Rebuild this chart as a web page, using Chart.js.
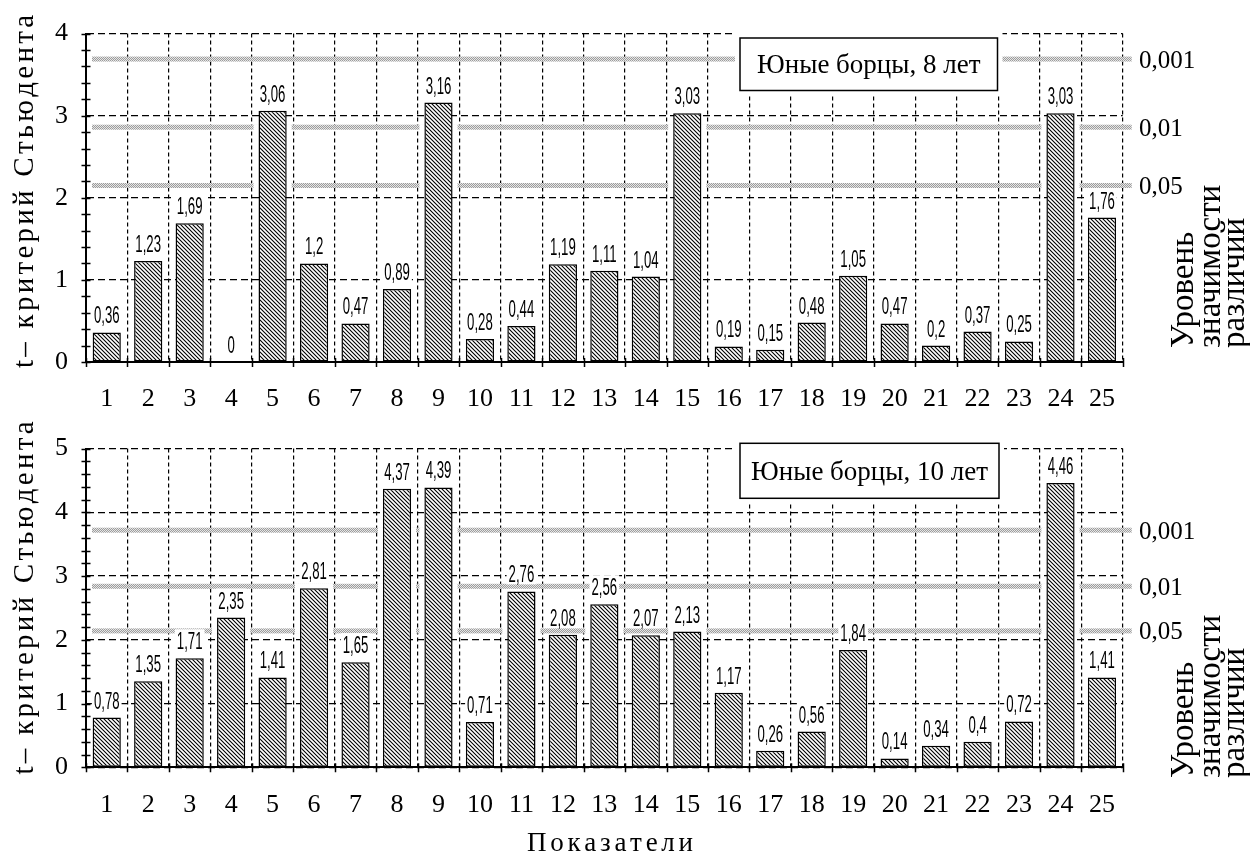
<!DOCTYPE html>
<html><head><meta charset="utf-8">
<script src="https://cdn.jsdelivr.net/npm/chart.js@4.4.1/dist/chart.umd.min.js"></script>
<style>
html,body{margin:0;padding:0;background:#fff;width:1250px;height:852px;overflow:hidden;}
canvas{position:absolute;left:0;}
#c1{top:0px}
#c2{top:415px}
</style></head><body>
<canvas id="c1" width="1250" height="415"></canvas>
<canvas id="c2" width="1250" height="437"></canvas>
<script>
// ---- data ----
const categories = ['1','2','3','4','5','6','7','8','9','10','11','12','13','14','15','16','17','18','19','20','21','22','23','24','25'];
const valuesAge8  = [0.36,1.23,1.69,0,3.06,1.2,0.47,0.89,3.16,0.28,0.44,1.19,1.11,1.04,3.03,0.19,0.15,0.48,1.05,0.47,0.2,0.37,0.25,3.03,1.76];
const valuesAge10 = [0.78,1.35,1.71,2.35,1.41,2.81,1.65,4.37,4.39,0.71,2.76,2.08,2.56,2.07,2.13,1.17,0.26,0.56,1.84,0.14,0.34,0.4,0.72,4.46,1.41];
const significanceLabels = ['0,001','0,01','0,05'];
const tCriticalAge8  = [3.69,2.86,2.15];
const tCriticalAge10 = [3.72,2.84,2.14];
const yMaxAge8 = 4;
const yMaxAge10 = 5;
const legendAge8 = 'Юные борцы, 8 лет';
const legendAge10 = 'Юные борцы, 10 лет';
const yAxisTitle = 't– критерий Стьюдента';
const xAxisTitle = 'Показатели';
const rightTitleLines = ['Уровень','значимости','различий'];

// ---- patterns ----
function hatchPattern(){
  const s = 4, c = document.createElement('canvas'); c.width = s; c.height = s;
  const g = c.getContext('2d');
  g.fillStyle = '#fff'; g.fillRect(0,0,s,s);
  g.strokeStyle = '#000'; g.lineWidth = 1.1;
  g.beginPath();
  g.moveTo(0,0); g.lineTo(s,s);
  g.moveTo(-1,s-1); g.lineTo(1,s+1);
  g.moveTo(s-1,-1); g.lineTo(s+1,1);
  g.stroke();
  return g.createPattern(c,'repeat');
}
function bandPatternMake(){
  const c = document.createElement('canvas'); c.width = 2; c.height = 2;
  const g = c.getContext('2d');
  g.fillStyle = '#e6e6e6'; g.fillRect(0,0,2,2);
  g.fillStyle = '#9c9c9c'; g.fillRect(0,0,1,1); g.fillRect(1,1,1,1);
  return g.createPattern(c,'repeat');
}
const HATCH = hatchPattern();
const BAND = bandPatternMake();
const SERIF = '"Liberation Serif", "Times New Roman", serif';

function fmt(v){ return String(v).replace('.', ','); }

function spacedText(ctx, text, startX, y, target){
  const chars = [...text];
  let w0 = 0; chars.forEach(ch => w0 += ctx.measureText(ch).width);
  const sp = chars.length > 1 ? (target - w0) / (chars.length - 1) : 0;
  let x = startX;
  chars.forEach(ch => { ctx.fillText(ch, x, y); x += ctx.measureText(ch).width + sp; });
}

function makeDecor(cfg){
  return {
    id: 'decor' + cfg.key,
    beforeDatasetsDraw(chart){
      const ctx = chart.ctx, ca = chart.chartArea, ys = chart.scales.y;
      const meta = chart.getDatasetMeta(0);
      ctx.save();
      cfg.crit.forEach(v => {
        const py = ys.getPixelForValue(v);
        ctx.fillStyle = BAND;
        ctx.fillRect(ca.left + 6, py - 2.5, ca.right + 9 - (ca.left + 6), 5);
        ctx.fillStyle = '#fff';
        meta.data.forEach(el => {
          if (el.y < py + 3) ctx.fillRect(el.x - el.width/2 - 5, py - 3, el.width + 10, 6);
        });
      });
      ctx.restore();
    },
    afterDatasetsDraw(chart){
      const ctx = chart.ctx;
      const meta = chart.getDatasetMeta(0);
      const vals = chart.data.datasets[0].data;
      ctx.save();
      ctx.font = '24px "Liberation Sans", Arial, sans-serif';
      const sx = 0.55;
      meta.data.forEach((el, i) => {
        const txt = fmt(vals[i]);
        const by = el.y - 9;
        const w = ctx.measureText(txt).width * sx;
        ctx.fillStyle = '#fff';
        ctx.fillRect(el.x - w/2 - 2, by - 20, w + 4, 22);
        ctx.save();
        ctx.translate(el.x, by); ctx.scale(sx, 1);
        ctx.fillStyle = '#000'; ctx.textAlign = 'center'; ctx.textBaseline = 'alphabetic';
        ctx.fillText(txt, 0, 0);
        ctx.restore();
      });
      // legend box
      const b = cfg.box;
      ctx.fillStyle = '#fff';
      ctx.fillRect(b.x1 - 5, b.y1 - 5, b.x2 - b.x1 + 10, b.y2 - b.y1 + 10);
      ctx.strokeStyle = '#000'; ctx.lineWidth = 1.5;
      ctx.strokeRect(b.x1, b.y1, b.x2 - b.x1, b.y2 - b.y1);
      ctx.fillStyle = '#000';
      ctx.font = '27px ' + SERIF;
      ctx.textAlign = 'center'; ctx.textBaseline = 'alphabetic';
      ctx.fillText(cfg.legend, (b.x1 + b.x2)/2, b.base);
      ctx.restore();
    },
    afterDraw(chart){
      const ctx = chart.ctx, ca = chart.chartArea, ys = chart.scales.y, xs = chart.scales.x;
      ctx.save();
      ctx.strokeStyle = '#000'; ctx.lineWidth = 1.5;
      ctx.beginPath();
      for (let i = 0; i <= cfg.ymax * 5; i++) {
        const py = Math.round(ys.getPixelForValue(i / 5)) + 0.5;
        ctx.moveTo(ca.left - 4.5, py); ctx.lineTo(ca.left + 4.5, py);
      }
      for (let i = 0; i <= categories.length; i++) {
        const px = Math.round(xs.getPixelForValue(i - 0.5)) + 0.5;
        ctx.moveTo(px, ca.bottom - 4); ctx.lineTo(px, ca.bottom + 5);
      }
      ctx.stroke();
      // right significance labels
      ctx.fillStyle = '#000';
      ctx.font = '25px ' + SERIF;
      ctx.textAlign = 'left'; ctx.textBaseline = 'middle';
      cfg.crit.forEach((v, i) => {
        ctx.fillText(significanceLabels[i], 1139, ys.getPixelForValue(v) + 2);
      });
      // right rotated title
      ctx.font = '33px ' + SERIF;
      ctx.textBaseline = 'alphabetic'; ctx.textAlign = 'left';
      const bx = [1193, 1220, 1244];
      rightTitleLines.forEach((t, i) => {
        ctx.save(); ctx.translate(bx[i], cfg.rtStart); ctx.rotate(-Math.PI/2);
        ctx.fillText(t, 0, 0); ctx.restore();
      });
      // y axis title
      ctx.font = '29px ' + SERIF;
      ctx.save(); ctx.translate(33, cfg.ytCenter); ctx.rotate(-Math.PI/2);
      spacedText(ctx, yAxisTitle, -176.5, 0, 353);
      ctx.restore();
      if (cfg.xTitle) {
        ctx.font = '27px ' + SERIF;
        spacedText(ctx, xAxisTitle, 610 - 83, cfg.xTitleBase, 166);
      }
      ctx.restore();
    }
  };
}

function makeChart(id, values, ymax, crit, padTop, xH, decorCfg){
  return new Chart(document.getElementById(id), {
    type: 'bar',
    data: { labels: categories, datasets: [{
      data: values, backgroundColor: HATCH, borderColor: '#000', borderWidth: 1.5,
      borderSkipped: false, barPercentage: 0.68, categoryPercentage: 1
    }]},
    options: {
      responsive: false, animation: false, devicePixelRatio: 1,
      layout: { padding: { left: 0, right: 127.3, top: padTop, bottom: 0 } },
      plugins: { legend: { display: false }, tooltip: { enabled: false }, title: { display: false } },
      scales: {
        x: {
          grid: { offset: true, color: '#000', lineWidth: 1.2, drawTicks: false },
          border: { display: true, color: '#000', width: 2, dash: [4, 3] },
          ticks: { font: { family: 'Liberation Serif', size: 26 }, color: '#000', padding: 22, maxRotation: 0, autoSkip: false },
          afterFit(s){ s.height = xH; }
        },
        y: {
          min: 0, max: ymax,
          grid: { color: '#000', lineWidth: 1.2, drawTicks: false },
          border: { display: true, color: '#000', width: 2, dash: [7, 4] },
          ticks: { stepSize: 1, font: { family: 'Liberation Serif', size: 26 }, color: '#000', padding: 18 },
          afterFit(s){ s.width = 86; }
        }
      }
    },
    plugins: [makeDecor(decorCfg)]
  });
}

makeChart('c1', valuesAge8, yMaxAge8, tCriticalAge8, 26, 53, {
  key: 'a', crit: tCriticalAge8, ymax: yMaxAge8, legend: legendAge8,
  box: { x1: 740, y1: 38, x2: 997.5, y2: 90.5, base: 73 },
  rtStart: 348, ytCenter: 191.5, xTitle: false
});
makeChart('c2', valuesAge10, yMaxAge10, tCriticalAge10, 15.7, 84.7, {
  key: 'b', crit: tCriticalAge10, ymax: yMaxAge10, legend: legendAge10,
  box: { x1: 740, y1: 28.3, x2: 999, y2: 83.3, base: 64.5 },
  rtStart: 363, ytCenter: 183, xTitle: true, xTitleBase: 436
});
</script>
</body></html>
